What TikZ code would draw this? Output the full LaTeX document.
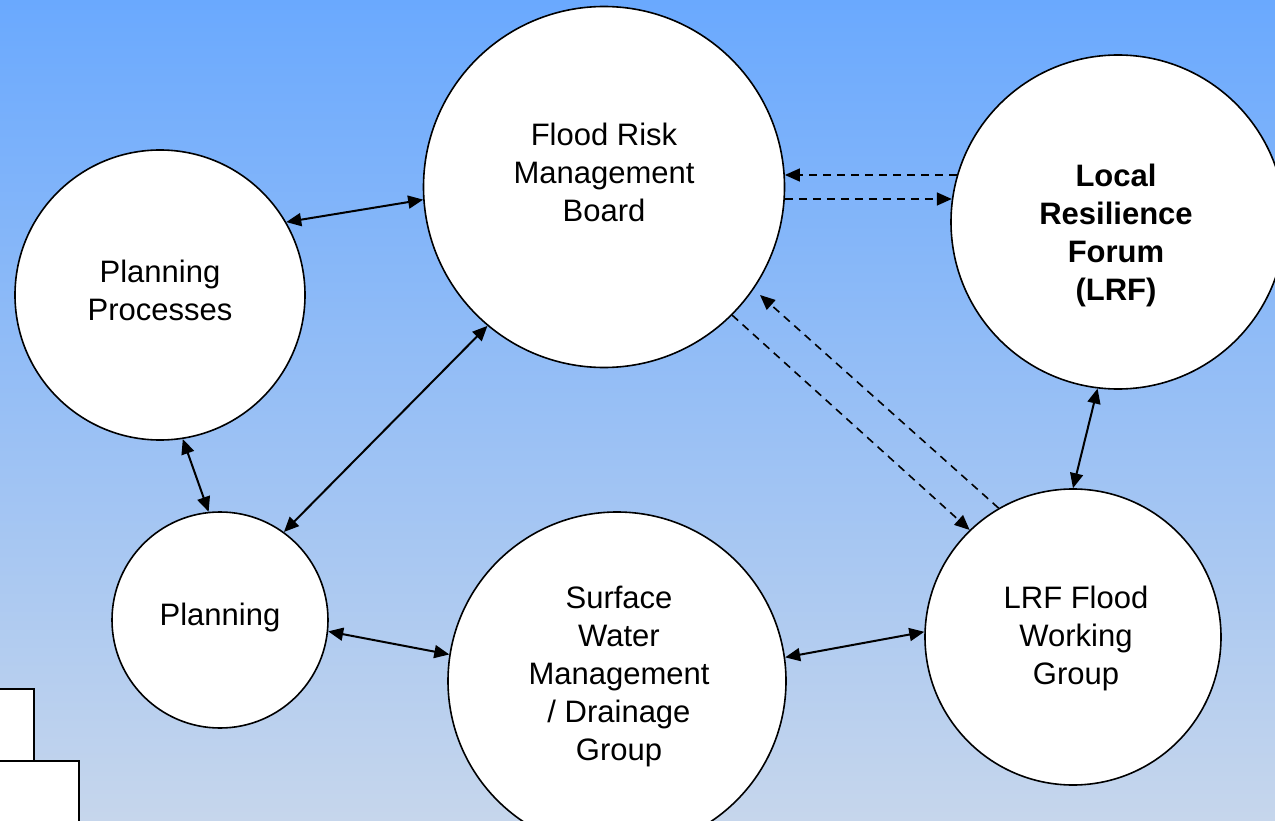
\documentclass[tikz,border=0pt]{standalone}
\usepackage{fontspec}
\setmainfont{Liberation Sans}
\usetikzlibrary{arrows.meta,calc}
\definecolor{bgtop}{HTML}{6AA9FE}
\definecolor{bgbot}{HTML}{C6D6EC}
\begin{document}
\begin{tikzpicture}[x=1pt,y=-1pt,
  circ/.style={circle, draw=black, line width=1.6pt, fill=white, inner sep=0pt, minimum size=#1},
  lbl/.style={align=center, font=\fontsize{31}{38}\selectfont, text depth=0pt, inner sep=0pt},
  biarrow/.style={line width=2pt, {Triangle[length=15pt,width=13pt]}-{Triangle[length=15pt,width=13pt]}},
  dasharrow/.style={line width=1.6pt, dash pattern=on 8pt off 6pt, -{Triangle[length=15pt,width=13pt]}},
  sidebox/.style={draw=black, fill=white, line width=1.6pt}
]
\useasboundingbox (0,0) rectangle (1275,821);
\shade[top color=bgtop, bottom color=bgbot] (0,0) rectangle (1275,821);

% side boxes (cut off at the left edge)
\node[sidebox, minimum width=40pt, minimum height=90pt, anchor=north west, inner sep=0pt] (boxa) at (-7,688) {};
\node[sidebox, minimum width=85pt, minimum height=80pt, anchor=north west, inner sep=0pt] (boxb) at (-7,760) {};

% circles
\node[circ=361pt] (frmb) at (604,187) {};
\node[circ=334pt] (lrf)  at (1118,222) {};
\node[circ=290pt] (pp)   at (160,295) {};
\node[circ=216pt] (pl)   at (220,620) {};
\node[circ=338pt] (sw)   at (617,681) {};
\node[circ=296pt] (fwg)  at (1073,637) {};

% labels
\node[lbl] (tfrmb) at (604,172) {Flood Risk\\Management\\Board};
\node[lbl, font=\fontsize{31}{38}\selectfont\bfseries] (tlrf) at (1116,232) {Local\\Resilience\\Forum\\(LRF)};
\node[lbl] (tpp) at (160,290) {Planning\\Processes};
\node[lbl] (tpl) at (220,614) {Planning};
\node[lbl] (tsw) at (619,673) {Surface\\Water\\Management\\/ Drainage\\Group};
\node[lbl] (tfwg) at (1076,635) {LRF Flood\\Working\\Group};

% solid two-way connectors
\draw[biarrow] (pp.30.7) -- (frmb.184.1);
\draw[biarrow] (pp.-81.2) -- (pl.96.3);
\draw[biarrow] (frmb.230.7) -- (pl.54.2);
\draw[biarrow] (pl.-6.3) -- (sw.171.9);
\draw[biarrow] (sw.8.1) -- (fwg.178.1);
\draw[biarrow] (lrf.263) -- (fwg.90.4);

% dashed connectors
\draw[dasharrow] ($(lrf.center)+(-161.1,-47)$) -- ($(frmb.center)+(180.9,-12)$);
\draw[dasharrow] ($(frmb.center)+(180.9,12)$) -- ($(lrf.center)+(-166.2,-23)$);
\draw[dasharrow] (frmb.-45) -- (fwg.134);
\coordinate (dfree) at (760,295);
\draw[dasharrow] (fwg.120) -- (dfree);
\end{tikzpicture}
\end{document}
